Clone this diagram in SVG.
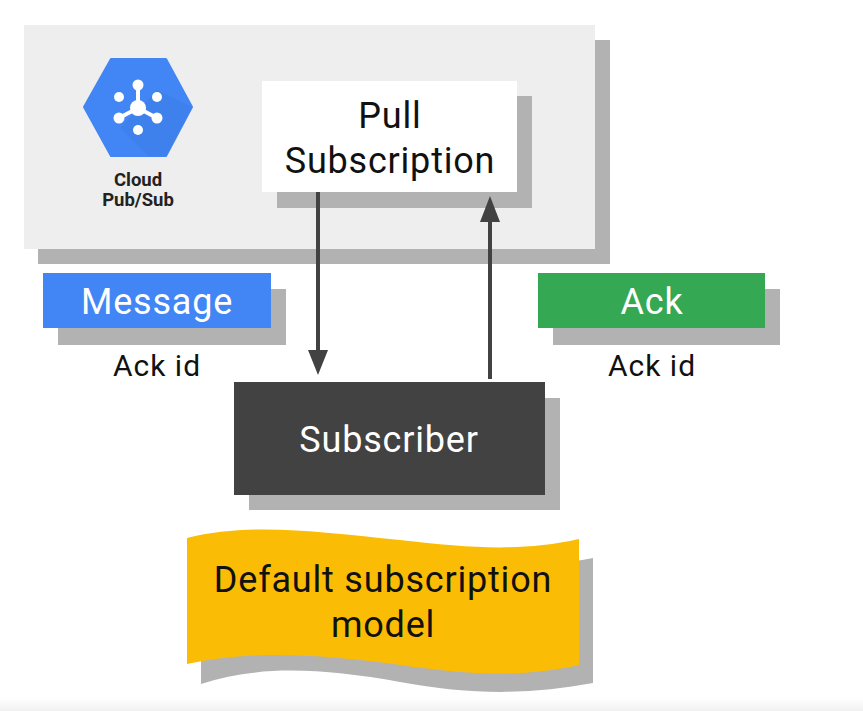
<svg xmlns="http://www.w3.org/2000/svg" width="863" height="711" viewBox="0 0 863 711">
<style>
text{font-family:"Roboto","Noto Sans","Liberation Sans",sans-serif;text-anchor:middle;font-variant-ligatures:none}
.s{fill:#b2b2b2}
.l{font-size:36px;fill:#111;letter-spacing:.8px}
.w{font-size:36px;fill:#fff;letter-spacing:.8px}
.a{font-size:30px;fill:#111;letter-spacing:1px}
.c{font-size:18.5px;font-weight:700;fill:#222}
.e{stroke:#424242;stroke-width:4;fill:none}
.h{fill:#424242}
</style>
<defs>
<linearGradient id="foot" x1="0" y1="0" x2="0" y2="1"><stop offset="0" stop-color="#fff"/><stop offset="1" stop-color="#f1f1f1"/></linearGradient>
</defs>
<rect width="863" height="711" fill="#fff"/>
<rect x="0" y="698" width="863" height="13" fill="url(#foot)"/>
<g id="pubsub">
<rect class="s" x="38" y="40" width="572" height="224"/>
<rect x="24" y="25" width="571" height="224" fill="#eeeeee"/>
<path d="M111 59H166L192 107L166 156H111L84 107Z" fill="#4285f4" stroke="#4285f4" stroke-width="2" stroke-linejoin="round"/>
<path d="M157 90L192 107L166 156H148L120 128Z" fill="#3d7de8" opacity=".7"/>
<g fill="#fff" stroke="#fff" stroke-width="0">
<path d="M138 85V108M138 108L119 118M138 108L157 118" stroke-width="4"/>
<circle cx="138" cy="108" r="8"/><circle cx="138" cy="85" r="5.5"/><circle cx="119" cy="97" r="5"/><circle cx="157" cy="97" r="5"/><circle cx="119" cy="118" r="5.5"/><circle cx="157" cy="118" r="5.5"/><circle cx="138" cy="130" r="5"/>
</g>
<text class="c" x="138" y="186">Cloud</text>
<text class="c" x="138" y="206">Pub/Sub</text>
</g>
<g id="pull">
<rect class="s" x="277" y="96" width="255" height="112"/>
<rect x="262" y="81" width="255" height="111" fill="#fff"/>
<text class="l" x="390" y="128">Pull</text>
<text class="l" x="390" y="173">Subscription</text>
</g>
<g id="connectors">
<path class="e" d="M318 192V352"/><path class="h" d="M308 350H328L318 375Z"/>
<path class="e" d="M490 379V220"/><path class="h" d="M480 222H500L490 196Z"/>
</g>
<g id="message">
<rect class="s" x="58" y="289" width="228" height="56"/>
<rect x="43" y="273" width="228" height="55" fill="#4285f4"/>
<text class="w" x="157" y="314">Message</text>
<text class="a" x="157" y="376">Ack id</text>
</g>
<g id="ack">
<rect class="s" x="553" y="289" width="227" height="56"/>
<rect x="538" y="273" width="227" height="55" fill="#34a853"/>
<text class="w" x="652" y="314">Ack</text>
<text class="a" x="652" y="376">Ack id</text>
</g>
<g id="subscriber">
<rect class="s" x="249" y="398" width="311" height="112"/>
<rect x="234" y="382" width="311" height="113" fill="#424242"/>
<text class="w" x="389" y="452">Subscriber</text>
</g>
<g id="model">
<path class="s" d="M201 558C260 540 320 552 400 560C470 568 530 570 593 558V683C530 695 470 695 400 682C320 668 260 665 201 684Z"/>
<path d="M187 538C250 522 320 532 400 540C470 548 520 552 579 539V665C520 678 470 675 400 665C320 654 250 650 187 664Z" fill="#fbbc05"/>
<text class="l" x="383" y="592">Default subscription</text>
<text class="l" x="383" y="637">model</text>
</g>
</svg>
